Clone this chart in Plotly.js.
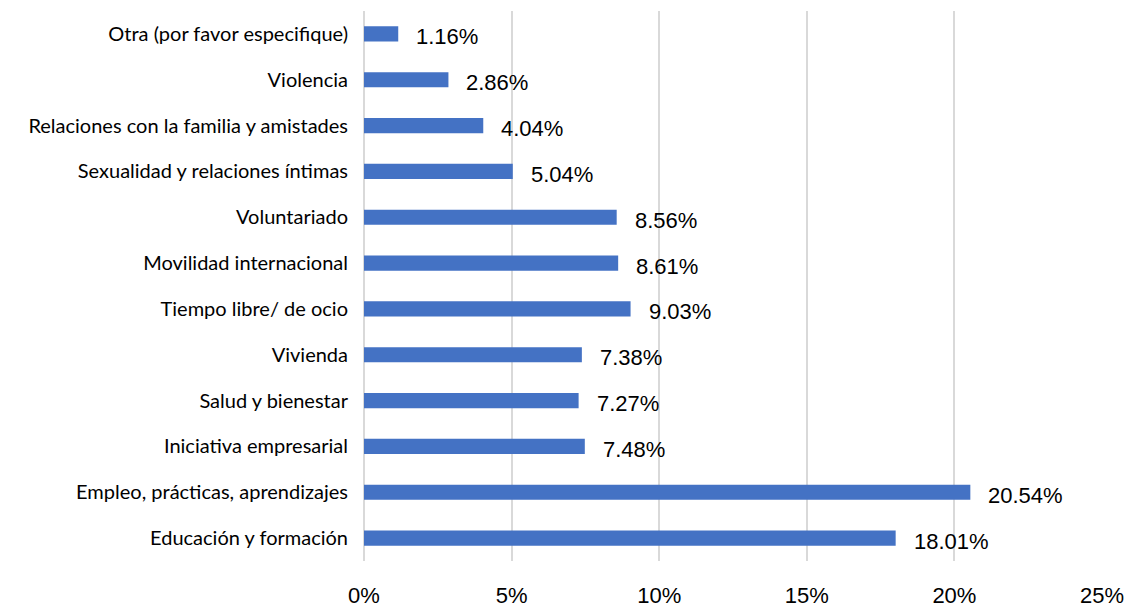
<!DOCTYPE html>
<html>
<head>
<meta charset="utf-8">
<script src="https://cdn.plot.ly/plotly-3.0.1.min.js"></script>
<style>html,body{margin:0;padding:0;background:#fff;}#chart{width:1130px;height:606px;}</style>
</head>
<body>
<div id="chart"></div>
<script>
const categories = [
  "Educación y formación",
  "Empleo, prácticas, aprendizajes",
  "Iniciativa empresarial",
  "Salud y bienestar",
  "Vivienda",
  "Tiempo libre/ de ocio",
  "Movilidad internacional",
  "Voluntariado",
  "Sexualidad y relaciones íntimas",
  "Relaciones con la familia y amistades",
  "Violencia",
  "Otra (por favor especifique)"
];
const values = [18.01, 20.54, 7.48, 7.27, 7.38, 9.03, 8.61, 8.56, 5.04, 4.04, 2.86, 1.16];
const xTicks = [0, 5, 10, 15, 20, 25];

const annotations = values.map((v, i) => ({
  x: v, y: categories[i], xref: 'x', yref: 'y',
  text: v.toFixed(2) + '%', showarrow: false,
  xanchor: 'left', yanchor: 'middle', xshift: 16, yshift: -3,
  font: {family: 'Liberation Sans, Arial, sans-serif', size: 22, color: '#000'}
}));

Plotly.newPlot('chart', [{
  type: 'bar', orientation: 'h',
  x: values, y: categories,
  marker: {color: '#4472C4'},
  width: 0.33,
  hoverinfo: 'skip'
}], {
  width: 1130, height: 606,
  margin: {l: 364, r: 28, t: 11, b: 45, pad: 0},
  paper_bgcolor: '#fff', plot_bgcolor: '#fff',
  showlegend: false,
  bargap: 0.67,
  xaxis: {
    range: [0, 25], tickvals: xTicks, ticktext: xTicks.map(t => t + '%'),
    showgrid: true, gridcolor: '#d9d9d9', gridwidth: 2,
    zeroline: true, zerolinecolor: '#d9d9d9', zerolinewidth: 2,
    showline: false, ticks: '', ticklabelstandoff: 19,
    tickfont: {family: 'Liberation Sans, Arial, sans-serif', size: 22, color: '#000'},
    fixedrange: true
  },
  yaxis: {
    type: 'category', categoryorder: 'array', categoryarray: categories,
    range: [-0.5, 11.5],
    showgrid: false, zeroline: false, showline: false, ticks: '',
    ticklabelstandoff: 15,
    tickfont: {family: 'Lato, Calibri, sans-serif', size: 20, color: '#000'},
    fixedrange: true
  },
  annotations: annotations
}, {displayModeBar: false, staticPlot: true});
</script>
</body>
</html>
